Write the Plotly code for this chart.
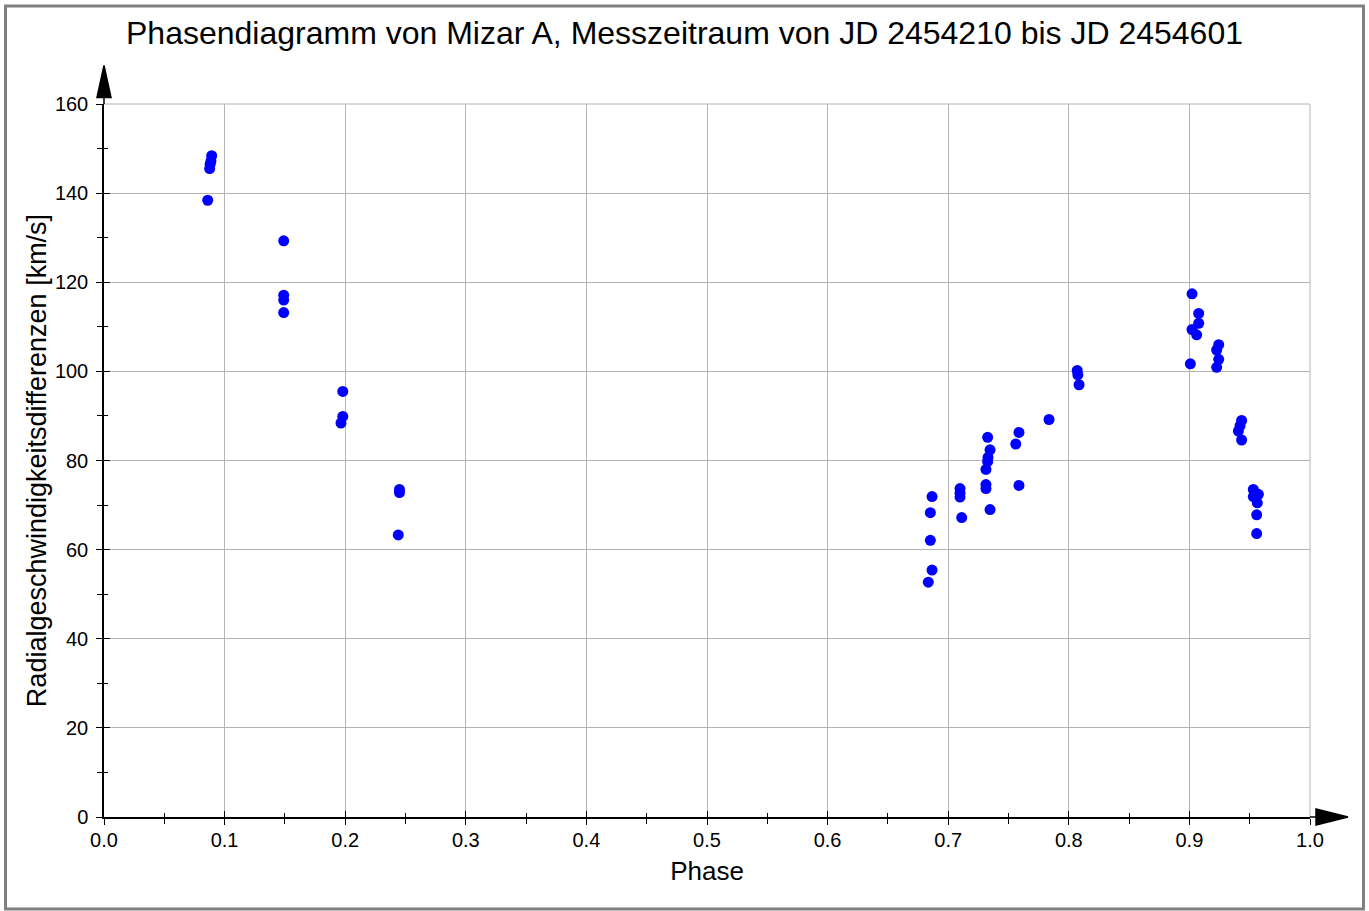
import plotly.graph_objects as go

# ---- data ----
phase = [
    0.0893, 0.0887, 0.0880, 0.0876, 0.0860,
    0.1490, 0.1490, 0.1490, 0.1490,
    0.1980, 0.1980, 0.1965,
    0.2450, 0.2450, 0.2440,
    0.6866, 0.6852, 0.6852, 0.6866, 0.6835,
    0.7098, 0.7098, 0.7098, 0.7112,
    0.7327, 0.7347, 0.7330, 0.7327, 0.7313, 0.7313, 0.7313, 0.7347,
    0.7587, 0.7560, 0.7587,
    0.7836,
    0.8070, 0.8075, 0.8085,
    0.9022, 0.9077, 0.9077, 0.9022, 0.9060, 0.9008,
    0.9243, 0.9226, 0.9243, 0.9226,
    0.9433, 0.9420, 0.9406, 0.9433,
    0.9530, 0.9530, 0.9572, 0.9563, 0.9558, 0.9558,
]
radial_velocity = [
    148.4, 147.2, 146.5, 145.5, 138.4,
    129.3, 117.1, 116.0, 113.2,
    95.5, 89.9, 88.4,
    73.5, 72.8, 63.3,
    71.9, 68.3, 62.1, 55.4, 52.7,
    73.7, 72.7, 71.8, 67.2,
    85.2, 82.4, 80.7, 79.8, 78.0, 74.6, 73.7, 69.0,
    86.3, 83.7, 74.4,
    89.2,
    100.2, 99.2, 97.0,
    117.4, 113.0, 110.8, 109.4, 108.2, 101.7,
    106.0, 104.8, 102.7, 100.9,
    89.0, 87.8, 86.6, 84.6,
    73.5, 71.9, 72.4, 70.5, 67.8, 63.6,
]

title_text = "Phasendiagramm von Mizar A, Messzeitraum von JD 2454210 bis JD 2454601"
x_title = "Phase"
y_title = "Radialgeschwindigkeitsdifferenzen [km/s]"

# ---- layout geometry ----
W, H = 1369, 911
L, R, T, B = 104, 1310, 103.5, 817
FONT = "Liberation Sans, Arial, sans-serif"
GRID = "#b4b4b4"


def px(xp):
    return (xp - L) / (R - L)


def py(yp):
    return (B - yp) / (B - T)


fig = go.Figure()
fig.add_trace(go.Scatter(
    x=phase, y=radial_velocity, mode="markers",
    marker=dict(color="#0000FF", size=11, line=dict(width=0)),
    showlegend=False, hoverinfo="x+y",
))
# dummy trace on overlay axes (inside ticks)
fig.add_trace(go.Scatter(x=[], y=[], xaxis="x2", yaxis="y2", showlegend=False))

tick_common = dict(tickcolor="black", tickwidth=1.3)

fig.update_layout(
    width=W, height=H,
    margin=dict(l=L, r=W - R, t=T, b=H - B, pad=0),
    paper_bgcolor="white", plot_bgcolor="white",
    font=dict(family=FONT, color="black"),
    title=dict(text=title_text, x=0.5, xanchor="center", y=1 - 33 / H, yanchor="middle",
               yref="container", font=dict(size=32, family=FONT, color="black")),
    xaxis=dict(
        range=[0, 1], dtick=0.1, tick0=0, tickformat=".1f",
        showgrid=True, gridcolor=GRID, gridwidth=1, zeroline=False,
        showline=True, linecolor="black", linewidth=1.5,
        ticks="outside", ticklen=6, **tick_common,
        minor=dict(dtick=0.05, ticks="outside", ticklen=5, tickcolor="black", tickwidth=1.2, showgrid=False),
        tickfont=dict(size=20, family=FONT), ticklabelstandoff=-2,
        title=dict(text=x_title, font=dict(size=26, family=FONT), standoff=12),
        automargin=False, fixedrange=True,
    ),
    yaxis=dict(
        range=[0, 160], dtick=20, tick0=0,
        showgrid=True, gridcolor=GRID, gridwidth=1, zeroline=False,
        showline=True, linecolor="black", linewidth=1.5,
        ticks="outside", ticklen=6, **tick_common,
        minor=dict(dtick=10, ticks="outside", ticklen=5, tickcolor="black", tickwidth=1.2, showgrid=False),
        tickfont=dict(size=20, family=FONT), ticklabelstandoff=4,
        title=dict(text=y_title, font=dict(size=27, family=FONT), standoff=0),
        automargin=False, fixedrange=True,
    ),
    xaxis2=dict(
        overlaying="x", anchor="y2", range=[0, 1], dtick=0.1, tick0=0,
        showgrid=False, zeroline=False, showticklabels=False, showline=False,
        ticks="inside", ticklen=6, **tick_common,
        minor=dict(dtick=0.05, ticks="inside", ticklen=4, tickcolor="black", tickwidth=1.2, showgrid=False),
        fixedrange=True,
    ),
    yaxis2=dict(
        overlaying="y", anchor="x2", range=[0, 160], dtick=20, tick0=0,
        showgrid=False, zeroline=False, showticklabels=False, showline=False,
        ticks="inside", ticklen=6, **tick_common,
        minor=dict(dtick=10, ticks="inside", ticklen=4, tickcolor="black", tickwidth=1.2, showgrid=False),
        fixedrange=True,
    ),
)

# gridlines at the upper / right ends of the axes (plotly omits these)
fig.add_shape(type="line", xref="paper", yref="paper", layer="below",
              x0=0, x1=1, y0=1, y1=1, line=dict(color=GRID, width=1))
fig.add_shape(type="line", xref="paper", yref="paper", layer="below",
              x0=1, x1=1, y0=0, y1=1, line=dict(color=GRID, width=1))

# arrows at axis ends
x_arrow = (f"M {px(R)} {py(B)} L {px(1318)} {py(B)} "
           f"M {px(1316)} {py(809)} L {px(1348)} {py(B)} L {px(1316)} {py(825)} Z")
y_arrow = (f"M {px(L)} {py(T)} L {px(L)} {py(95)} "
           f"M {px(97)} {py(97)} L {px(L)} {py(65)} L {px(111)} {py(97)} Z")
fig.add_shape(type="path", path=x_arrow, xref="paper", yref="paper",
              line=dict(color="black", width=1.5), fillcolor="black")
fig.add_shape(type="path", path=y_arrow, xref="paper", yref="paper",
              line=dict(color="black", width=1.5), fillcolor="black")

# outer gray frame
fig.add_shape(type="rect", xref="paper", yref="paper",
              x0=px(5.5), x1=px(1363.5), y0=py(909), y1=py(5.5),
              line=dict(color="#808080", width=3), fillcolor="rgba(0,0,0,0)")

fig.write_html(
    "out.html",
    config=dict(displayModeBar=False),
    post_script="document.body.style.margin='0';document.body.style.overflow='hidden';",
)
